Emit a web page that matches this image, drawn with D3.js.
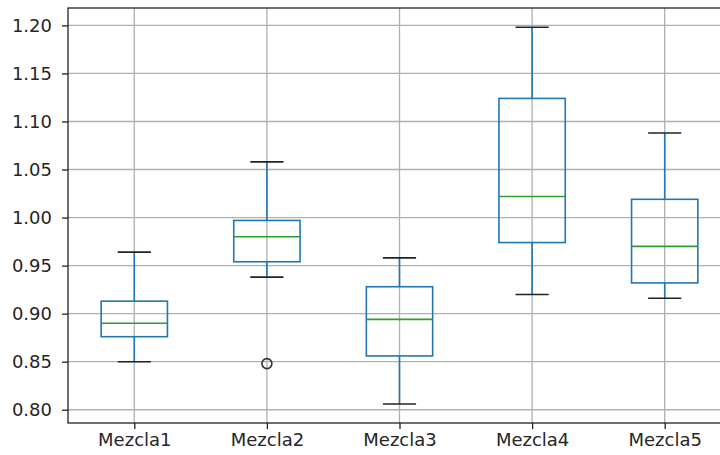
<!DOCTYPE html>
<html>
<head>
<meta charset="utf-8">
<script src="https://cdn.jsdelivr.net/npm/d3@7/dist/d3.min.js"></script>
<style>
  html, body { margin: 0; padding: 0; background: #fff; overflow: hidden; }
  svg { display: block; }
</style>
</head>
<body>
<svg id="chart" width="720" height="455"></svg>
<script>
// Box statistics per mixture
const categories = ["Mezcla1", "Mezcla2", "Mezcla3", "Mezcla4", "Mezcla5"];
const whiskerLow  = [0.850, 0.938, 0.806, 0.920, 0.916];
const q1          = [0.876, 0.954, 0.856, 0.974, 0.932];
const medians     = [0.890, 0.980, 0.894, 1.022, 0.970];
const q3          = [0.913, 0.997, 0.928, 1.124, 1.019];
const whiskerHigh = [0.964, 1.058, 0.958, 1.198, 1.088];
const outliers    = [[], [0.848], [], [], []];
const yTicks = [0.80, 0.85, 0.90, 0.95, 1.00, 1.05, 1.10, 1.15, 1.20];

const boxes = categories.map((c, i) => ({
  name: c, lo: whiskerLow[i], q1: q1[i], med: medians[i], q3: q3[i], hi: whiskerHigh[i], out: outliers[i]
}));

const svg = d3.select("#chart");
const plotL = 68, plotR = 731, plotT = 8, plotB = 423;

const x = d3.scaleLinear().domain([0.5, categories.length + 0.5]).range([plotL, plotR]);
const y = d3.scaleLinear().domain([0.7862, 1.2181]).range([plotB, plotT]);

const blue = "#1f77b4", green = "#2ca02c";
const boxW = x(1.25) - x(1), capW = x(1.125) - x(1);

// grid
const grid = svg.append("g");
grid.selectAll("line.gy").data(yTicks).join("line")
  .attr("x1", plotL).attr("x2", plotR)
  .attr("y1", d => y(d)).attr("y2", d => y(d))
  .attr("stroke", "#b0b0b0").attr("stroke-width", 1.3);
grid.selectAll("line.gx").data(d3.range(1, categories.length + 1)).join("line")
  .attr("x1", d => x(d)).attr("x2", d => x(d))
  .attr("y1", plotT).attr("y2", plotB)
  .attr("stroke", "#b0b0b0").attr("stroke-width", 1.3);

// boxes
const g = svg.append("g").selectAll("g").data(boxes).join("g");
g.each(function(d, i) {
  const s = d3.select(this), cx = x(i + 1);
  // whiskers
  s.append("line").attr("x1", cx).attr("x2", cx).attr("y1", y(d.q3)).attr("y2", y(d.hi))
    .attr("stroke", blue).attr("stroke-width", 1.6);
  s.append("line").attr("x1", cx).attr("x2", cx).attr("y1", y(d.q1)).attr("y2", y(d.lo))
    .attr("stroke", blue).attr("stroke-width", 1.6);
  // caps
  [d.hi, d.lo].forEach(v => s.append("line")
    .attr("x1", cx - capW).attr("x2", cx + capW).attr("y1", y(v)).attr("y2", y(v))
    .attr("stroke", "#222").attr("stroke-width", 1.6));
  // box
  s.append("rect").attr("x", cx - boxW).attr("width", 2 * boxW)
    .attr("y", y(d.q3)).attr("height", y(d.q1) - y(d.q3))
    .attr("fill", "none").attr("stroke", blue).attr("stroke-width", 1.6);
  // median
  s.append("line").attr("x1", cx - boxW).attr("x2", cx + boxW).attr("y1", y(d.med)).attr("y2", y(d.med))
    .attr("stroke", green).attr("stroke-width", 1.6);
  // fliers
  s.selectAll("circle").data(d.out).join("circle")
    .attr("cx", cx).attr("cy", v => y(v)).attr("r", 5)
    .attr("fill", "none").attr("stroke", "#333").attr("stroke-width", 1.6);
});

// axes
const yAxis = d3.axisLeft(y).tickValues(yTicks).tickFormat(d3.format(".2f")).tickSize(6).tickPadding(10);
const xAxis = d3.axisBottom(x).tickValues(d3.range(1, categories.length + 1))
  .tickFormat(d => categories[d - 1]).tickSize(6).tickPadding(4.5);

const ya = svg.append("g").attr("transform", `translate(${plotL},0)`).call(yAxis);
const xa = svg.append("g").attr("transform", `translate(0,${plotB})`).call(xAxis);
[ya, xa].forEach(a => {
  a.select(".domain").remove();
  a.selectAll(".tick line").attr("stroke", "#222").attr("stroke-width", 1.3);
  a.selectAll(".tick text").attr("fill", "#262626")
    .style("font-family", "DejaVu Sans, sans-serif").style("font-size", "18px");
});

// frame
svg.append("rect").attr("x", plotL).attr("y", plotT).attr("width", plotR - plotL).attr("height", plotB - plotT)
  .attr("fill", "none").attr("stroke", "#222").attr("stroke-width", 1.3);
</script>
</body>
</html>
